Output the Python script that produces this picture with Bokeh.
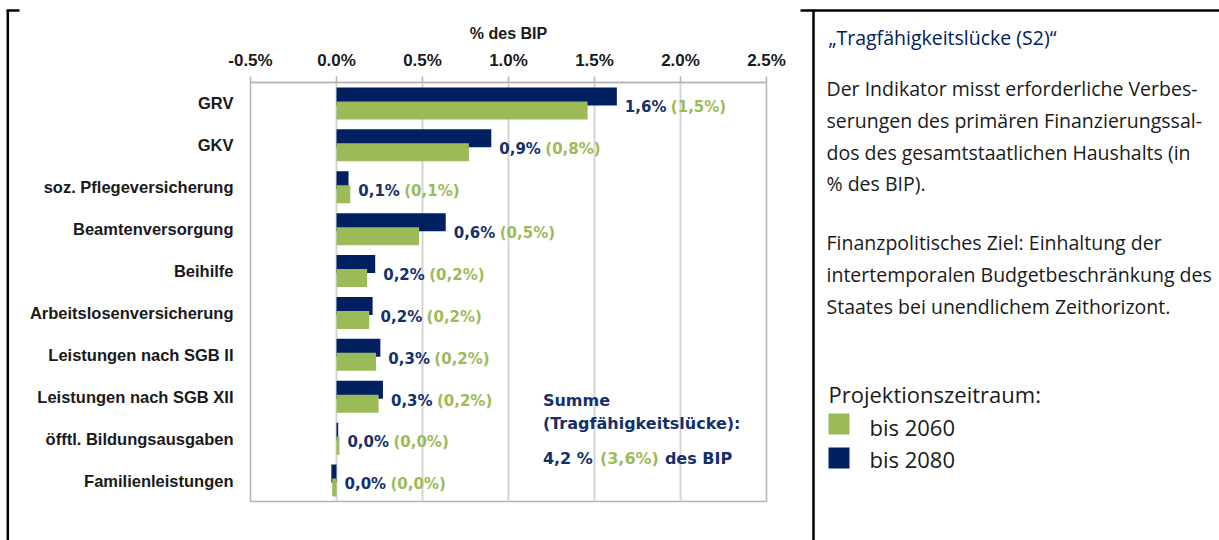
from bokeh.plotting import figure
from bokeh.layouts import row
from bokeh.models import Range1d, FixedTicker, ColumnDataSource, PrintfTickFormatter
from bokeh.core.properties import value
from bokeh.embed import file_html
from bokeh.resources import INLINE

# ---------------- data ----------------
categories = ["GRV", "GKV", "soz. Pflegeversicherung", "Beamtenversorgung", "Beihilfe",
              "Arbeitslosenversicherung", "Leistungen nach SGB II", "Leistungen nach SGB XII",
              "öfftl. Bildungsausgaben", "Familienleistungen"]
v2080 = [1.63, 0.90, 0.07, 0.635, 0.225, 0.21, 0.255, 0.27, 0.01, -0.03]
v2060 = [1.46, 0.77, 0.08, 0.48, 0.178, 0.19, 0.23, 0.245, 0.017, -0.025]
labels_2080 = ["1,6%", "0,9%", "0,1%", "0,6%", "0,2%", "0,2%", "0,3%", "0,3%", "0,0%", "0,0%"]
labels_2060 = ["(1,5%)", "(0,8%)", "(0,1%)", "(0,5%)", "(0,2%)", "(0,2%)", "(0,2%)", "(0,2%)", "(0,0%)", "(0,0%)"]
x_ticks = [-0.5, 0.0, 0.5, 1.0, 1.5, 2.0, 2.5]
x_label = "% des BIP"
series_names = ["bis 2060", "bis 2080"]
sum_title = ["Summe", "(Tragfähigkeitslücke):"]
sum_2080 = "4,2 %"
sum_2060 = "(3,6%)"
sum_unit = "des BIP"

panel_title = "„Tragfähigkeitslücke (S2)“"
paragraph1 = ["Der Indikator misst erforderliche Verbes-",
              "serungen des primären Finanzierungssal-",
              "dos des gesamtstaatlichen Haushalts (in",
              "% des BIP)."]
paragraph2 = ["Finanzpolitisches Ziel: Einhaltung der",
              "intertemporalen Budgetbeschränkung des",
              "Staates bei unendlichem Zeithorizont."]
legend_title = "Projektionszeitraum:"

NAVY = "#002060"
NAVY_TXT = "#14306a"
GREEN = "#9bbb59"
TXT = "#1a1a1a"
H = 540

# ---------------- left border strip ----------------
lf = figure(width=22, height=H, x_range=Range1d(0, 22), y_range=Range1d(H, 0),
            output_backend="svg", toolbar_location=None, min_border=0, frame_align=False,
            x_axis_location=None, y_axis_location=None, outline_line_color=None)
lf.grid.visible = False
lf.segment(x0=[7.3, 6], y0=[10, 10], x1=[7.3, 19], y1=[H, 10], line_color="black", line_width=2.5)

# ---------------- chart ----------------
ys = list(range(len(categories)))
src = ColumnDataSource(dict(
    y=ys,
    y_n=[y - 0.167 for y in ys],
    y_g=[y + 0.167 for y in ys],
    y_t=[y + 0.09 for y in ys],
    v2080=v2080, v2060=v2060,
    xl=[max(a, b, 0) for a, b in zip(v2080, v2060)],
    l80=labels_2080, l60=labels_2060,
))

p = figure(width=776, height=H, x_range=Range1d(-0.5, 2.5), y_range=Range1d(9.5, -0.5),
           x_axis_location="above", output_backend="svg", toolbar_location=None,
           min_border_left=228, min_border_right=32, min_border_top=82, min_border_bottom=39,
           frame_align=False, outline_line_color="#b4b4b4", outline_line_width=1.5)

p.hbar(y="y_n", left=0, right="v2080", height=0.43, source=src, fill_color=NAVY, line_color=None)
p.hbar(y="y_g", left=0, right="v2060", height=0.43, source=src, fill_color=GREEN, line_color=None)

p.text(x="xl", y="y_t", text="l80", source=src, x_offset=8, text_font=value("DejaVu Sans"),
       text_font_style="bold", text_font_size="15px", text_color=NAVY_TXT,
       text_baseline="middle", text_align="left")
p.text(x="xl", y="y_t", text="l60", source=src, x_offset=54, text_font=value("DejaVu Sans"),
       text_font_style="bold", text_font_size="15px", text_color=GREEN,
       text_baseline="middle", text_align="left")

# sum annotation
sx = 1.2
p.text(x=[sx, sx], y=[7.09, 7.64], text=sum_title, text_font=value("DejaVu Sans"),
       text_font_style="bold", text_font_size="16px", text_color=NAVY_TXT,
       text_baseline="middle", text_align="left")
p.text(x=[sx], y=[8.47], text=[sum_2080], text_font=value("DejaVu Sans"),
       text_font_style="bold", text_font_size="16px", text_color=NAVY_TXT,
       text_baseline="middle", text_align="left")
p.text(x=[sx], y=[8.47], text=[sum_2060], x_offset=57, text_font=value("DejaVu Sans"),
       text_font_style="bold", text_font_size="16px", text_color=GREEN,
       text_baseline="middle", text_align="left")
p.text(x=[sx], y=[8.47], text=[sum_unit], x_offset=122, text_font=value("DejaVu Sans"),
       text_font_style="bold", text_font_size="16px", text_color=NAVY_TXT,
       text_baseline="middle", text_align="left")

xa = p.xaxis[0]
xa.ticker = FixedTicker(ticks=x_ticks)
xa.formatter = PrintfTickFormatter(format="%.1f%%")
xa.axis_label = x_label
xa.axis_label_text_font = "Liberation Sans"
xa.axis_label_text_font_style = "bold"
xa.axis_label_text_font_size = "16px"
xa.axis_label_text_color = TXT
xa.axis_label_standoff = 6
xa.major_label_text_font = "Liberation Sans"
xa.major_label_text_font_style = "bold"
xa.major_label_text_font_size = "17px"
xa.major_label_text_color = TXT
xa.major_label_standoff = 7
xa.axis_line_color = "#b4b4b4"
xa.axis_line_width = 1.5
xa.major_tick_line_color = "#b4b4b4"
xa.major_tick_line_width = 1.5
xa.major_tick_out = 6
xa.major_tick_in = 0
xa.minor_tick_line_color = None

ya = p.yaxis[0]
ya.ticker = FixedTicker(ticks=ys)
ya.major_label_overrides = {i: c for i, c in enumerate(categories)}
ya.major_label_text_font = "Liberation Sans"
ya.major_label_text_font_style = "bold"
ya.major_label_text_font_size = "16.5px"
ya.major_label_text_color = TXT
ya.major_label_standoff = 17
ya.axis_line_color = None
ya.major_tick_line_color = None
ya.minor_tick_line_color = None
ya.major_tick_out = 0
ya.major_tick_in = 0

p.ygrid.visible = False
p.xgrid.grid_line_color = "#d4d4d4"
p.xgrid.grid_line_width = 2

# ---------------- right panel ----------------
W2 = 421
q = figure(width=W2, height=H, x_range=Range1d(0, W2), y_range=Range1d(H, 0),
           output_backend="svg", toolbar_location=None, min_border=0, frame_align=False,
           x_axis_location=None, y_axis_location=None, outline_line_color=None)
q.grid.visible = False
q.segment(x0=[2, 15], y0=[10, 10], x1=[W2, 15], y1=[10, H], line_color="black", line_width=2.5)

q.text(x=[30], y=[37], text=[panel_title], text_font=value("Open Sans"), text_font_size="19.5px",
       text_color=NAVY, text_baseline="middle", text_align="left")
q.text(x=[28] * 4, y=[88, 120, 152, 183], text=paragraph1, text_font=value("Open Sans"),
       text_font_size="19.5px", text_color=TXT, text_baseline="middle", text_align="left")
q.text(x=[28] * 3, y=[242, 274, 306], text=paragraph2, text_font=value("Open Sans"),
       text_font_size="19.5px", text_color=TXT, text_baseline="middle", text_align="left")
q.text(x=[30], y=[393], text=[legend_title], text_font=value("Open Sans"), text_font_size="22px",
       text_color=TXT, text_baseline="middle", text_align="left")
q.quad(left=[30, 30], right=[51, 51], top=[413, 447], bottom=[434, 468],
       fill_color=[GREEN, NAVY], line_color=None)
q.text(x=[71, 71], y=[426, 458], text=series_names, text_font=value("Open Sans"),
       text_font_size="22px", text_color=TXT, text_baseline="middle", text_align="left")

layout = row(lf, p, q)
open("out.html", "w").write(file_html(layout, INLINE))
